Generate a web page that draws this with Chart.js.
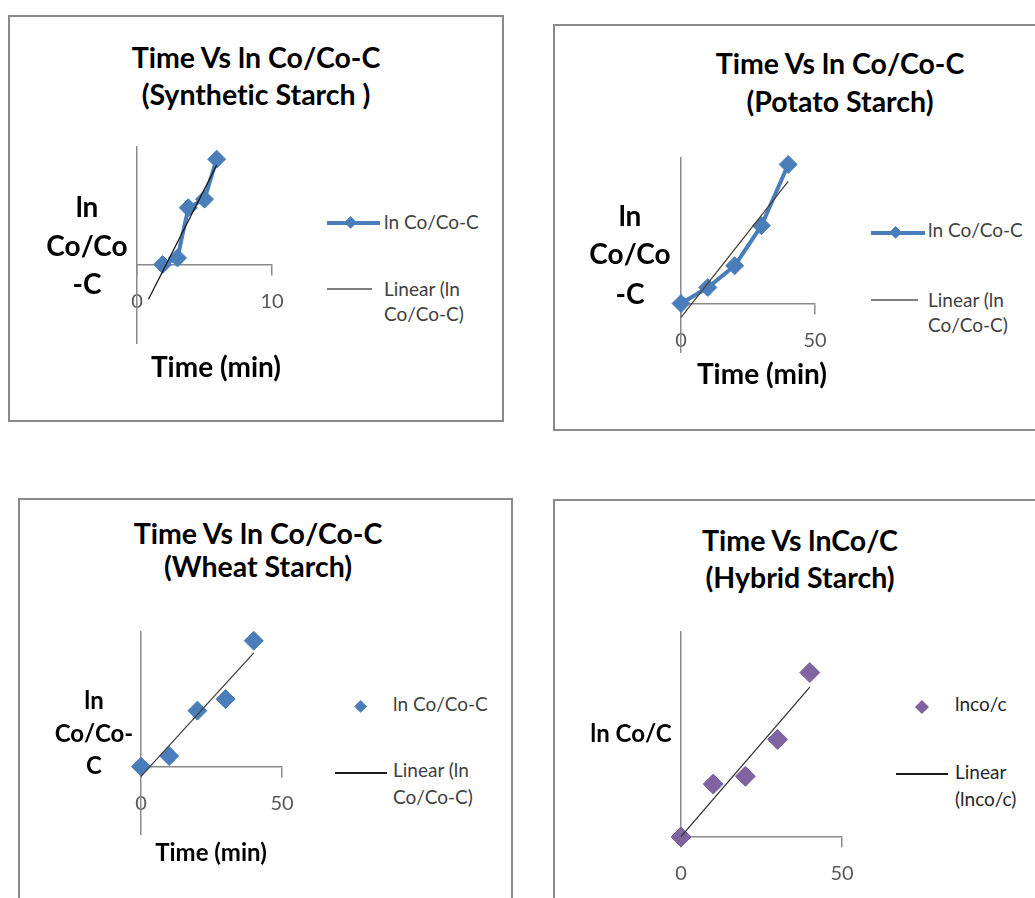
<!DOCTYPE html>
<html>
<head>
<meta charset="utf-8">
<title>Time Vs ln Co/Co-C</title>
<script src="https://cdn.jsdelivr.net/npm/chart.js@4.4.1/dist/chart.umd.min.js"></script>
<style>
  html, body { margin: 0; padding: 0; background: #fff; }
  body { width: 1035px; height: 898px; position: relative; overflow: hidden; font-family: Lato, "Noto Sans", sans-serif; }
  .panel { position: absolute; box-sizing: border-box; border: 2px solid #8a8a8a; background: #fff; }
  .plot { position: absolute; }
  .txt { position: absolute; white-space: nowrap; line-height: 1.2; font-variant-ligatures: none; }
  .sym { position: absolute; }
</style>
</head>
<body>
<div class="panel" style="left:8px;top:15px;width:496px;height:407px"></div>
<div class="panel" style="left:553px;top:24px;width:500px;height:407px"></div>
<div class="panel" style="left:18px;top:498px;width:495px;height:420px"></div>
<div class="panel" style="left:553px;top:499px;width:500px;height:420px"></div>

<canvas id="synChart" class="plot"></canvas>
<canvas id="potChart" class="plot"></canvas>
<canvas id="wheatChart" class="plot"></canvas>
<canvas id="hybChart" class="plot"></canvas>

<script>
// ---- data (time in min, ln Co/Co-C) ----
var synTime   = [1.9, 3, 3.8, 5, 5.9];
var synLn     = [0, 0.017, 0.145, 0.167, 0.269];
var potTime   = [0, 10, 20, 30, 40];
var potLn     = [0, 0.165, 0.389, 0.802, 1.433];
var wheatTime = [0, 10, 20, 30, 40];
var wheatLn   = [0, 0.079, 0.416, 0.502, 0.935];
var hybTime   = [0, 10, 20, 30, 40];
var hybLn     = [0, 0.129, 0.148, 0.238, 0.401];

// x span of each linear trendline
var synTrendX   = [0.85, 5.9];
var potTrendX   = [0, 40];
var wheatTrendX = [0, 40];
var hybTrendX   = [0, 40];

// axis limits: [xMax, yMin, yMax]
var synAxis   = [10, -0.2, 0.3];
var potAxis   = [50, -0.5, 1.5];
var wheatAxis = [50, -0.5, 1.0];
var hybAxis   = [50, 0, 0.5];

var BLUE = '#4a7ebb';
var PURPLE = '#8064a2';
var AXIS = '#8a8a8a';

function toPoints(xs, ys) {
    var pts = [];
    for (var i = 0; i < xs.length; i++) pts.push({x: xs[i], y: ys[i]});
    return pts;
}

// least squares fit, evaluated at the ends of the trend span
function trendPoints(xs, ys, span) {
    var n = xs.length, sx = 0, sy = 0, sxx = 0, sxy = 0;
    for (var i = 0; i < n; i++) {
        sx += xs[i]; sy += ys[i];
        sxx += xs[i] * xs[i]; sxy += xs[i] * ys[i];
    }
    var m = (n * sxy - sx * sy) / (n * sxx - sx * sx);
    var b = (sy - m * sx) / n;
    return span.map(function (x) { return {x: x, y: m * x + b}; });
}

// box = [left, top, right, bottom] of the plot area on the page
function makeChart(id, box, axis, pts, trend, opt) {
    var pad = {left: 40, right: 40, top: 20, bottom: 60};
    var cv = document.getElementById(id);
    cv.width = box[2] - box[0] + pad.left + pad.right;
    cv.height = box[3] - box[1] + pad.top + pad.bottom;
    cv.style.left = (box[0] - pad.left) + 'px';
    cv.style.top = (box[1] - pad.top) + 'px';
    return new Chart(cv, {
        type: 'scatter',
        data: {
            datasets: [
                {
                    label: 'Linear',
                    data: trend,
                    showLine: true,
                    borderColor: opt.trendColor,
                    borderWidth: 1.3,
                    pointRadius: 0,
                    clip: false,
                    order: 0
                },
                {
                    label: opt.label,
                    data: pts,
                    showLine: opt.joined,
                    borderColor: opt.color,
                    backgroundColor: opt.color,
                    borderWidth: 4,
                    pointStyle: 'rectRot',
                    pointRadius: opt.radius,
                    pointBorderWidth: 1,
                    pointBorderColor: opt.color,
                    pointBackgroundColor: opt.color,
                    clip: false,
                    order: 1
                }
            ]
        },
        options: {
            responsive: false,
            animation: false,
            events: [],
            layout: {padding: pad},
            plugins: {
                legend: {display: false},
                title: {display: false},
                tooltip: {enabled: false}
            },
            scales: {
                x: {
                    type: 'linear',
                    position: {y: 0},
                    min: 0,
                    max: axis[0],
                    ticks: {
                        stepSize: axis[0],
                        color: '#595959',
                        font: {family: 'Lato', size: 20},
                        padding: 15,
                        maxRotation: 0
                    },
                    grid: {display: true, drawOnChartArea: false, drawTicks: true, tickLength: 10, color: AXIS, lineWidth: 1.5},
                    border: {display: true, color: AXIS, width: 1.5}
                },
                y: {
                    type: 'linear',
                    position: 'left',
                    min: axis[1],
                    max: axis[2],
                    ticks: {display: false},
                    grid: {display: false, drawTicks: false},
                    border: {display: true, color: AXIS, width: 1.5}
                }
            }
        }
    });
}

// text placed by its baseline; align 'c' centres on x
function addText(str, x, base, size, bold, align, color) {
    var d = document.createElement('div');
    d.className = 'txt';
    d.textContent = str;
    d.style.fontSize = size + 'px';
    d.style.fontWeight = bold ? '700' : '400';
    d.style.color = color || '#000';
    d.style.top = (base - 0.987 * size) + 'px';
    d.style.left = x + 'px';
    if (align === 'c') d.style.transform = 'translateX(-50%)';
    document.body.appendChild(d);
}

function addLine(x1, x2, y, w, color) {
    var d = document.createElement('div');
    d.className = 'sym';
    d.style.left = x1 + 'px';
    d.style.top = (y - w / 2) + 'px';
    d.style.width = (x2 - x1) + 'px';
    d.style.height = w + 'px';
    d.style.background = color;
    document.body.appendChild(d);
}

function addDiamond(cx, cy, r, color) {
    var s = r * Math.SQRT2;
    var d = document.createElement('div');
    d.className = 'sym';
    d.style.left = (cx - s / 2) + 'px';
    d.style.top = (cy - s / 2) + 'px';
    d.style.width = s + 'px';
    d.style.height = s + 'px';
    d.style.background = color;
    d.style.transform = 'rotate(45deg)';
    document.body.appendChild(d);
}

//-------- synthetic starch --------
makeChart('synChart', [137, 147, 272, 343], synAxis,
    toPoints(synTime, synLn), trendPoints(synTime, synLn, synTrendX),
    {label: 'ln Co/Co-C', color: BLUE, joined: true, radius: 9, trendColor: '#1a1a1a'});
addText('Time Vs ln Co/Co-C', 256, 68, 28.5, true, 'c');
addText('(Synthetic Starch )', 256, 105, 28.5, true, 'c');
addText('ln', 87, 218, 28, true, 'c');
addText('Co/Co', 87, 257, 28, true, 'c');
addText('-C', 87, 295, 28, true, 'c');
addText('Time (min)', 216, 378, 28, true, 'c');
addLine(327, 380, 223, 4.5, BLUE);
addDiamond(351, 223, 6.5, BLUE);
addText('ln Co/Co-C', 384, 230, 19, false, 'l', '#404040');
addLine(327, 372, 289, 1.3, '#7f7f7f');
addText('Linear (ln', 384, 297, 19, false, 'l', '#404040');
addText('Co/Co-C)', 384, 322, 19, false, 'l', '#404040');

//-------- potato starch --------
makeChart('potChart', [681, 158, 815, 352], potAxis,
    toPoints(potTime, potLn), trendPoints(potTime, potLn, potTrendX),
    {label: 'ln Co/Co-C', color: BLUE, joined: true, radius: 9, trendColor: '#4d4030'});
addText('Time Vs ln Co/Co-C', 840, 74, 28.5, true, 'c');
addText('(Potato Starch)', 840, 112, 28.5, true, 'c');
addText('ln', 630, 227, 28, true, 'c');
addText('Co/Co', 630, 265, 28, true, 'c');
addText('-C', 630, 305, 28, true, 'c');
addText('Time (min)', 762, 385, 28, true, 'c');
addLine(871, 925, 233, 4.5, BLUE);
addDiamond(896, 233, 6.5, BLUE);
addText('ln Co/Co-C', 928, 238, 19, false, 'l', '#404040');
addLine(871, 918, 300, 1.3, '#7f7f7f');
addText('Linear (ln', 928, 308, 19, false, 'l', '#404040');
addText('Co/Co-C)', 928, 333, 19, false, 'l', '#404040');

//-------- wheat starch --------
makeChart('wheatChart', [141, 632, 282, 834], wheatAxis,
    toPoints(wheatTime, wheatLn), trendPoints(wheatTime, wheatLn, wheatTrendX),
    {label: 'ln Co/Co-C', color: BLUE, joined: false, radius: 9.5, trendColor: '#404040'});
addText('Time Vs ln Co/Co-C', 258, 544, 28.5, true, 'c');
addText('(Wheat Starch)', 258, 577, 28.5, true, 'c');
addText('ln', 94, 710, 24, true, 'c');
addText('Co/Co-', 94, 743, 24, true, 'c');
addText('C', 94, 775, 24, true, 'c');
addText('Time (min)', 211, 862, 24, true, 'c');
addDiamond(361, 707, 6.5, BLUE);
addText('ln Co/Co-C', 393, 712, 19, false, 'l', '#404040');
addLine(335, 387, 773, 1.3, '#1a1a1a');
addText('Linear (ln', 393, 778, 19, false, 'l', '#404040');
addText('Co/Co-C)', 393, 805, 19, false, 'l', '#404040');

//-------- hybrid starch --------
makeChart('hybChart', [681, 632, 842, 837], hybAxis,
    toPoints(hybTime, hybLn), trendPoints(hybTime, hybLn, hybTrendX),
    {label: 'lnco/c', color: PURPLE, joined: false, radius: 10, trendColor: '#333333'});
addText('Time Vs lnCo/C', 800, 551, 28.5, true, 'c');
addText('(Hybrid Starch)', 800, 588, 28.5, true, 'c');
addText('ln Co/C', 631, 743, 24, true, 'c');
addDiamond(922, 707, 7, PURPLE);
addText('lnco/c', 955, 712, 19, false, 'l', '#262626');
addLine(896, 948, 774, 1.3, '#1a1a1a');
addText('Linear', 955, 780, 19, false, 'l', '#262626');
addText('(lnco/c)', 955, 807, 19, false, 'l', '#262626');
</script>
</body>
</html>
